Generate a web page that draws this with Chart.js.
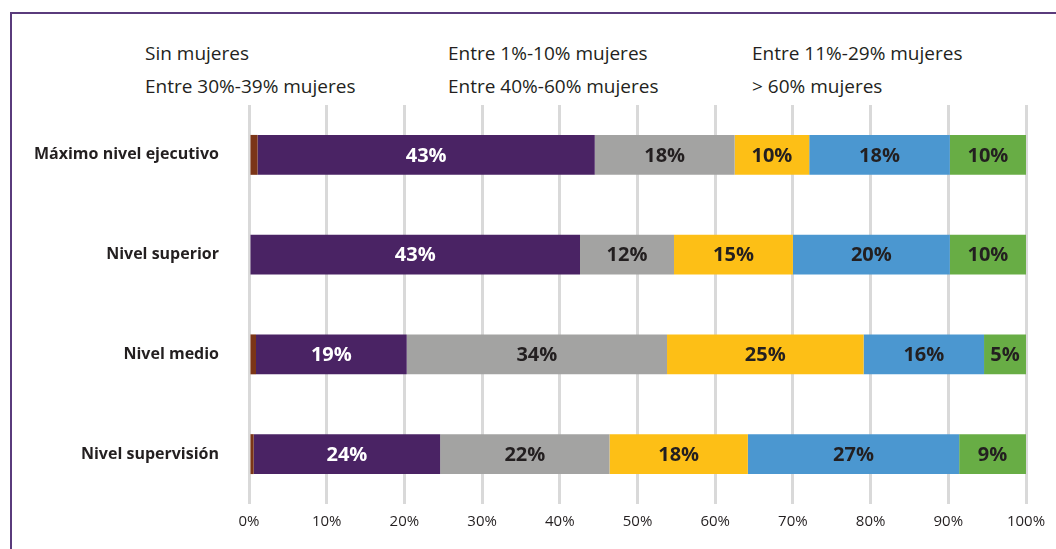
<!DOCTYPE html>
<html>
<head>
<meta charset="utf-8">
<script src="https://cdn.jsdelivr.net/npm/chart.js@4"></script>
<style>
  html, body { margin: 0; padding: 0; background: #fff; }
  #wrap { position: relative; width: 1056px; height: 549px; overflow: hidden; }
  #frame {
    position: absolute; left: 10px; top: 12px; width: 1100px; height: 600px;
    border-top: 2px solid #5a3b7c; border-left: 2px solid #5a3b7c;
  }
  #legend {
    position: absolute; left: 145px; top: 40px;
    display: grid; grid-template-columns: 303px 304px 300px; row-gap: 7px;
    font-family: "Open Sans", sans-serif; font-size: 19px; color: #231f20;
  }
  #legend div { line-height: 26px; white-space: nowrap; }
  canvas { position: absolute; left: 0; top: 0; }
</style>
</head>
<body>
<div id="wrap">
  <div id="frame"></div>
  <div id="legend"></div>
  <canvas id="chart" width="1056" height="549"></canvas>
</div>
<script>
const categories = ['Máximo nivel ejecutivo', 'Nivel superior', 'Nivel medio', 'Nivel supervisión'];
const seriesNames = ['Sin mujeres', 'Entre 1%-10% mujeres', 'Entre 11%-29% mujeres',
  'Entre 30%-39% mujeres', 'Entre 40%-60% mujeres', '> 60% mujeres'];
const sinMujeres = [1.1, 0, 0.9, 0.6];
const entre1a10 = [43.4, 42.6, 19.4, 24.0];
const entre11a29 = [18.0, 12.1, 33.5, 21.8];
const entre30a39 = [9.6, 15.3, 25.3, 17.8];
const entre40a60 = [18.1, 20.2, 15.5, 27.2];
const mas60 = [9.8, 9.8, 5.4, 8.6];
const xTicks = [0, 10, 20, 30, 40, 50, 60, 70, 80, 90, 100];

const colors = ['#7b3517', '#4a2364', '#a3a3a2', '#fdbf16', '#4b97d0', '#68ad45'];
const labelColors = [null, '#ffffff', '#231f20', '#231f20', '#231f20', '#231f20'];
const values = [sinMujeres, entre1a10, entre11a29, entre30a39, entre40a60, mas60];

const datasets = values.map((data, i) => ({
  label: seriesNames[i],
  data,
  backgroundColor: colors[i],
  borderWidth: 0,
  barPercentage: 0.4,
  categoryPercentage: 1,
}));

// text-only legend, three columns like the original
const legendEl = document.getElementById('legend');
seriesNames.forEach((name) => {
  const d = document.createElement('div');
  d.textContent = name;
  legendEl.appendChild(d);
});

const barLabels = {
  id: 'barLabels',
  afterDatasetsDraw(chart) {
    const ctx = chart.ctx;
    ctx.save();
    ctx.font = 'bold 20px "Open Sans", sans-serif';
    ctx.textAlign = 'center';
    ctx.textBaseline = 'middle';
    chart.data.datasets.forEach((ds, i) => {
      if (!labelColors[i]) return;
      chart.getDatasetMeta(i).data.forEach((bar, j) => {
        const v = ds.data[j];
        if (!v) return;
        ctx.fillStyle = labelColors[i];
        ctx.fillText(Math.round(v) + '%', (bar.x + bar.base) / 2, bar.y + 1);
      });
    });
    ctx.restore();
  },
};

new Chart(document.getElementById('chart'), {
  type: 'bar',
  data: { labels: categories, datasets },
  plugins: [barLabels],
  options: {
    indexAxis: 'y',
    responsive: false,
    animation: false,
    layout: { padding: { left: 0, right: 30, top: 105, bottom: 0 } },
    plugins: {
      legend: { display: false },
      tooltip: { enabled: false },
    },
    scales: {
      x: {
        stacked: true,
        min: 0,
        max: 100,
        afterBuildTicks: (scale) => { scale.ticks = xTicks.map((v) => ({ value: v })); },
        afterFit: (scale) => { scale.height = 45; },
        grid: { color: '#d9d9d9', lineWidth: 3, drawTicks: false },
        border: { display: false },
        ticks: {
          padding: 9,
          color: '#231f20',
          font: { family: '"Open Sans", sans-serif', size: 15 },
          callback: (v) => v + '%',
        },
      },
      y: {
        stacked: true,
        afterFit: (scale) => { scale.width = 249; },
        grid: { display: false, drawTicks: false },
        border: { display: false },
        ticks: {
          padding: 30,
          color: '#231f20',
          font: { family: '"Open Sans", sans-serif', size: 16, weight: 'bold' },
        },
      },
    },
  },
});
</script>
</body>
</html>
